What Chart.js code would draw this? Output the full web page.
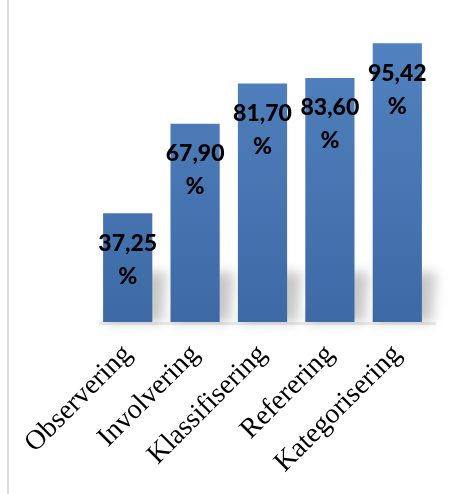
<!DOCTYPE html>
<html>
<head>
<meta charset="utf-8">
<script src="https://cdn.jsdelivr.net/npm/chart.js@4/dist/chart.umd.min.js"></script>
<style>
  html, body { margin: 0; padding: 0; background: #fff; }
  #wrap { position: relative; width: 456px; height: 494px; }
  #wrap:before { content: ""; position: absolute; left: 7px; top: 0; bottom: 0; width: 2px; background: #d9d9d9; }
</style>
</head>
<body>
<div id="wrap"><canvas id="chart" width="456" height="494"></canvas></div>
<script>
var categories = ["Observering", "Involvering", "Klassifisering", "Referering", "Kategorisering"];
var values = [37.25, 67.90, 81.70, 83.60, 95.42];

// label inside the bar: value + "%" on two lines
var barLabels = {
  id: "barLabels",
  afterDatasetsDraw: function (chart) {
    var ctx = chart.ctx;
    var meta = chart.getDatasetMeta(0);
    ctx.save();
    ctx.fillStyle = "#000";
    ctx.font = "900 23px Lato, 'Open Sans', sans-serif";
    ctx.textAlign = "center";
    ctx.textBaseline = "middle";
    meta.data.forEach(function (bar, i) {
      var txt = values[i].toFixed(2).replace(".", ",");
      ctx.fillText(txt, bar.x, bar.y + 30);
      ctx.fillText("%", bar.x, bar.y + 63);
    });
    ctx.restore();
  },
};

// soft perspective shadow behind the bars
var barShadow = {
  id: "barShadow",
  beforeDatasetsDraw: function (chart) {
    var ctx = chart.ctx;
    var meta = chart.getDatasetMeta(0);
    ctx.save();
    ctx.filter = "blur(6px)";
    ctx.fillStyle = "rgba(0,0,0,0.22)";
    meta.data.forEach(function (bar) {
      var l = bar.x - bar.width / 2;
      var r = bar.x + bar.width / 2;
      ctx.beginPath();
      ctx.moveTo(l, bar.base);
      ctx.lineTo(r + 10, bar.base);
      ctx.lineTo(r + 14, bar.base - 50);
      ctx.lineTo(l + 40, bar.base - 50);
      ctx.closePath();
      ctx.fill();
    });
    ctx.filter = "none";
    ctx.fillStyle = "rgba(0,0,0,0.08)";
    ctx.fillRect(chart.chartArea.left + 5, chart.chartArea.bottom, chart.chartArea.right - chart.chartArea.left, 3);
    ctx.restore();
  },
};

new Chart(document.getElementById("chart"), {
  type: "bar",
  data: {
    labels: categories,
    datasets: [
      {
        data: values,
        backgroundColor: function (c) {
          var area = c.chart.chartArea;
          if (!area) return "#4a7ab8";
          var g = c.chart.ctx.createLinearGradient(0, area.top, 0, area.bottom);
          g.addColorStop(0, "#5283c0");
          g.addColorStop(1, "#3d6aa5");
          return g;
        },
        borderWidth: 0,
        barPercentage: 0.73,
        categoryPercentage: 1,
      },
    ],
  },
  options: {
    responsive: false,
    animation: false,
    layout: {
      padding: { left: 94, right: 25, top: 30, bottom: 0 },
    },
    plugins: {
      legend: { display: false },
      tooltip: { enabled: false },
    },
    scales: {
      y: {
        display: false,
        min: 0,
        max: 100,
      },
      x: {
        grid: { display: false, drawTicks: false },
        border: { display: false },
        afterFit: function (scale) {
          scale.height = 172;
        },
        ticks: {
          minRotation: 45,
          maxRotation: 45,
          padding: 16,
          color: "#000",
          font: { family: "'Liberation Serif', 'Times New Roman', serif", size: 28 },
        },
      },
    },
  },
  plugins: [barShadow, barLabels],
});
</script>
</body>
</html>
